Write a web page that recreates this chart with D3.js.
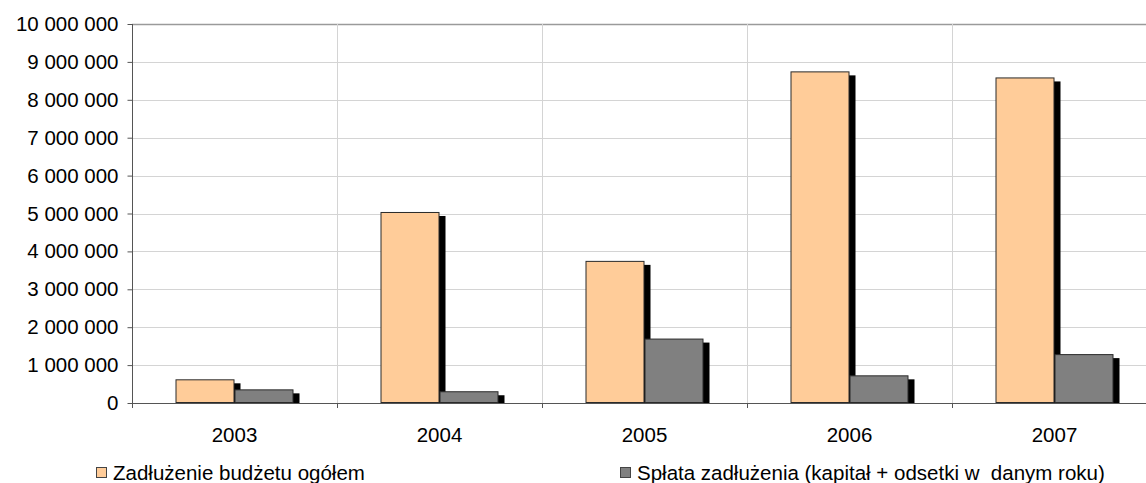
<!DOCTYPE html>
<html>
<head>
<meta charset="utf-8">
<script src="https://cdn.jsdelivr.net/npm/d3@7"></script>
<style>
  html, body { margin: 0; padding: 0; background: #fff; }
  svg { display: block; font-family: "Liberation Sans", Arial, sans-serif; }
</style>
</head>
<body>
<svg id="chart" width="1146" height="483"></svg>
<script>
const categories = ["2003", "2004", "2005", "2006", "2007"];
const legendLabels = ["Zadłużenie budżetu ogółem", "Spłata zadłużenia (kapitał + odsetki w  danym roku)"];
const debtTotal = [625000, 5040000, 3750000, 8750000, 8590000];
const repayment = [360000, 310000, 1700000, 730000, 1290000];
const yTicks = [0, 1000000, 2000000, 3000000, 4000000, 5000000, 6000000, 7000000, 8000000, 9000000, 10000000];
const colors = ["#FFCC99", "#808080"];

const svg = d3.select("#chart");
const mLeft = 132, mTop = 24, mBottom = 403, catW = 205;
const mRight = mLeft + catW * categories.length;
const fs = 20.5;

const x = d3.scaleBand().domain(categories).range([mLeft, mRight]).padding(0);
const y = d3.scaleLinear().domain([0, 10000000]).range([mBottom, mTop]);
const groupW = 118;
const x1 = d3.scaleBand().domain([0, 1]).range([(catW - groupW) / 2, (catW + groupW) / 2]).padding(0);

const loc = d3.formatLocale({ decimal: ",", thousands: " ", grouping: [3], currency: ["", ""] });
const fmt = loc.format(",d");

// horizontal gridlines
svg.append("g").selectAll("line").data(yTicks.filter(t => t > 0)).join("line")
  .attr("x1", mLeft).attr("x2", 1146)
  .attr("y1", d => Math.round(y(d)) + 0.5).attr("y2", d => Math.round(y(d)) + 0.5)
  .attr("stroke", d => d === 10000000 ? "#9a9a9a" : "#d4d4d4").attr("stroke-width", d => d === 10000000 ? 1.5 : 1);

// vertical gridlines at category boundaries
const bounds = categories.slice(1).map(c => x(c));
svg.append("g").selectAll("line").data(bounds).join("line")
  .attr("x1", d => Math.round(d) + 0.5).attr("x2", d => Math.round(d) + 0.5)
  .attr("y1", mTop).attr("y2", mBottom)
  .attr("stroke", "#d4d4d4");

const series = [debtTotal, repayment];
const dx = 6, dy = 4;

// shadows
series.forEach((vals, si) => {
  svg.append("g").selectAll("rect").data(categories).join("rect")
    .attr("x", c => x(c) + x1(si) + dx)
    .attr("y", (c, i) => y(vals[i]) + dy)
    .attr("width", x1.bandwidth())
    .attr("height", (c, i) => Math.max(0, mBottom - y(vals[i]) - dy))
    .attr("fill", "#000");
});
// bars
series.forEach((vals, si) => {
  svg.append("g").selectAll("rect").data(categories).join("rect")
    .attr("x", c => x(c) + x1(si) + 0.5)
    .attr("y", (c, i) => y(vals[i]) + 0.5)
    .attr("width", x1.bandwidth() - 1)
    .attr("height", (c, i) => mBottom - y(vals[i]) - 1)
    .attr("fill", colors[si])
    .attr("stroke", "#2a2a2a").attr("stroke-width", 1);
});

// y axis
const yAxis = d3.axisLeft(y).tickValues(yTicks).tickFormat(fmt).tickSize(5).tickPadding(9);
const ya = svg.append("g").attr("transform", `translate(${mLeft + 0.5},0)`).call(yAxis);
ya.select(".domain").attr("stroke", "#555").attr("d", `M0,${mTop}V${mBottom + 5}`);
ya.selectAll(".tick line").attr("stroke", "#555");
ya.selectAll("text").attr("font-size", fs).attr("fill", "#000").attr("font-family", "Liberation Sans, Arial, sans-serif");

// x axis
const xa = svg.append("g").attr("transform", `translate(0,${mBottom + 0.5})`).call(d3.axisBottom(x).tickSize(0).tickPadding(24));
xa.select(".domain").attr("stroke", "#555").attr("d", `M${mLeft},0H1146`);
xa.selectAll("text").attr("font-size", fs).attr("fill", "#000").attr("font-family", "Liberation Sans, Arial, sans-serif");
svg.append("g").selectAll("line").data(bounds).join("line")
  .attr("x1", d => Math.round(d) + 0.5).attr("x2", d => Math.round(d) + 0.5)
  .attr("y1", mBottom).attr("y2", mBottom + 5).attr("stroke", "#555");

// legend
const legX = [96, 620];
const leg = svg.append("g");
legendLabels.forEach((lab, i) => {
  leg.append("rect").attr("x", legX[i] + 0.5).attr("y", 467.5).attr("width", 10).attr("height", 10)
    .attr("fill", colors[i]).attr("stroke", "#444");
  leg.append("text").attr("x", legX[i] + 17).attr("y", 479.5)
    .attr("font-size", fs).attr("fill", "#000").attr("xml:space", "preserve").style("white-space", "pre").text(lab);
});
</script>
</body>
</html>
